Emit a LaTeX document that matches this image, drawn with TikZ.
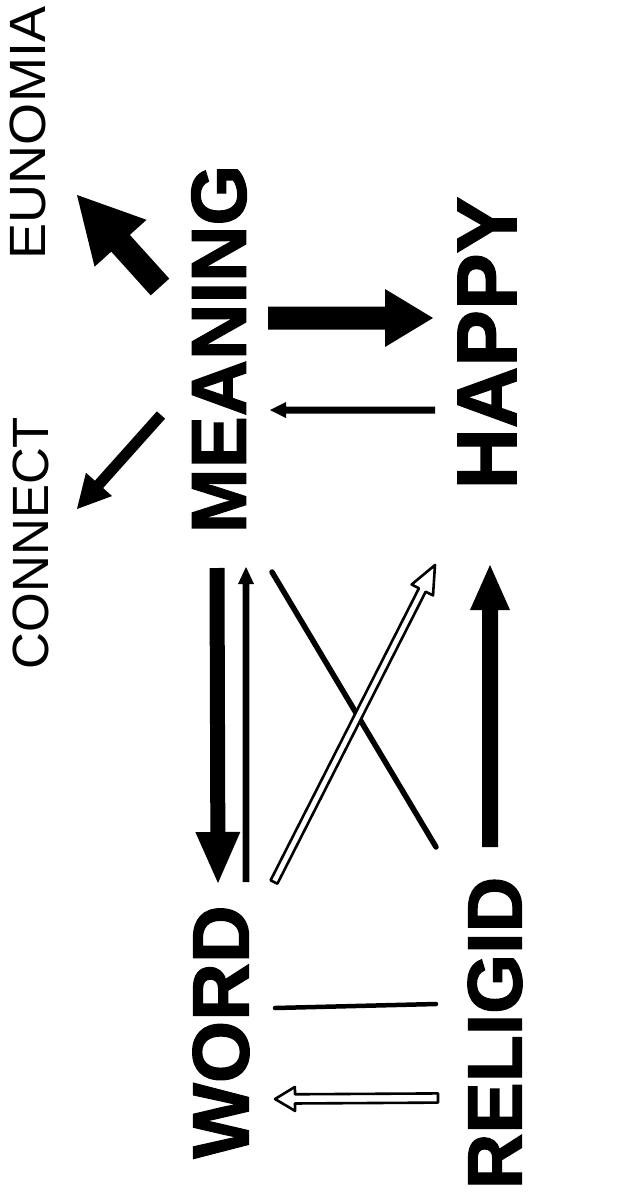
\documentclass[tikz,border=0pt]{standalone}
\usepackage{fontspec}
\setmainfont{Liberation Sans}
\newfontfamily\heavyfont[FakeBold=1.6]{Liberation Sans Bold}
\usetikzlibrary{calc}

\tikzset{
  bigword/.style={font=\heavyfont\fontsize{78}{80}\selectfont, rotate=90, inner sep=0pt},
  smallword/.style={font=\fontsize{51}{54}\selectfont, rotate=90, inner sep=0pt},
  solidarrow/.style={fill=black},
  hollowarrow/.style={fill=white, draw=black, line width=2.6pt, line join=round},
  plainline/.style={line width=5.5pt, line cap=round},
}

% block arrow: #1 style, #2 tail, #3 tip, #4 half shaft width,
% #5 half head width, #6 head length
\newcommand{\blockarrow}[6]{%
  \coordinate (ba-base) at ($(#3)!#6!(#2)$);
  \path[#1] ($(#2)!#4!90:(#3)$) -- ($(ba-base)!#4!90:(#3)$)
    -- ($(ba-base)!#5!90:(#3)$) -- (#3)
    -- ($(ba-base)!#5!-90:(#3)$) -- ($(ba-base)!#4!-90:(#3)$)
    -- ($(#2)!#4!-90:(#3)$) -- cycle;
}

\begin{document}
\begin{tikzpicture}[x=1pt, y=-1pt]
\useasboundingbox (0,0) rectangle (622,1201);

% words
\node[smallword] (eunomia) at (28,133) {\scalebox{1.06}[1]{EUNOMIA}};
\node[smallword] (connect) at (31,543) {CONNECT};
\node[bigword] (meaning) at (219,349) {MEANING};
\node[bigword, font=\heavyfont\fontsize{85}{87}\selectfont] (happy) at (487,343) {HAPPY};
\node[bigword, font=\heavyfont\fontsize{80}{82}\selectfont] (word) at (221,1032) {WORD};
\node[bigword, font=\heavyfont\fontsize{77}{80}\selectfont] (religid) at (495,1033) {RELIGID};

% arrow end points
\coordinate (me-tail) at (160,287);  \coordinate (me-tip) at (77,195);
\coordinate (mc-tail) at (161,415);  \coordinate (mc-tip) at (77,509);
\coordinate (mh-tail) at (268,318);  \coordinate (mh-tip) at (433,318);
\coordinate (hm-tail) at (435,410);  \coordinate (hm-tip) at (270,410);
\coordinate (mw-tail) at (217,568);  \coordinate (mw-tip) at (218,883);
\coordinate (wm-tail) at (246,882);  \coordinate (wm-tip) at (246,567);
\coordinate (x-a) at (272,572);      \coordinate (x-b) at (436,847);
\coordinate (wh-tail) at (274,882);  \coordinate (wh-tip) at (435,565);
\coordinate (rh-tail) at (490,847);  \coordinate (rh-tip) at (490,565);
\coordinate (rw-a) at (275,1008);    \coordinate (rw-b) at (436,1004);
\coordinate (rw-tail) at (438,1098); \coordinate (rw-tip) at (275,1099);

% solid arrows
\blockarrow{solidarrow}{me-tail}{me-tip}{12.5pt}{35pt}{65pt}
\blockarrow{solidarrow}{mc-tail}{mc-tip}{5.5pt}{17.5pt}{33pt}
\blockarrow{solidarrow}{mh-tail}{mh-tip}{11.5pt}{29pt}{48pt}
\blockarrow{solidarrow}{hm-tail}{hm-tip}{3.5pt}{8pt}{16pt}
\blockarrow{solidarrow}{mw-tail}{mw-tip}{7.5pt}{22.5pt}{51pt}
\blockarrow{solidarrow}{wm-tail}{wm-tip}{3.3pt}{8pt}{17pt}
\blockarrow{solidarrow}{rh-tail}{rh-tip}{8pt}{20pt}{45pt}

% plain lines
\draw[plainline] (x-a) -- (x-b);
\draw[plainline, line width=4.5pt] (rw-a) -- (rw-b);

% hollow arrows
\blockarrow{hollowarrow}{wh-tail}{wh-tip}{3.8pt}{12pt}{28pt}
\blockarrow{hollowarrow}{rw-tail}{rw-tip}{4.6pt}{12pt}{20pt}
\end{tikzpicture}
\end{document}
